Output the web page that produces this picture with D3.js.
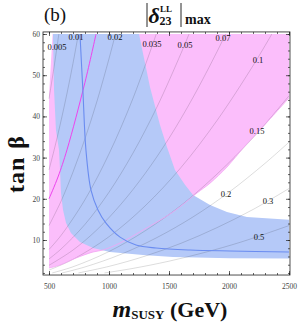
<!DOCTYPE html>
<html><head><meta charset="utf-8">
<script src="https://cdn.jsdelivr.net/npm/d3@7"></script>
<style>body{margin:0;background:#fff}svg{display:block}</style>
</head><body><svg id="c" width="300" height="325"></svg>
<script>
// ---- data (m_SUSY in GeV, tan beta) ----
const xMajorTicks = [500, 1000, 1500, 2000, 2500];
const xMinorTicks = d3.range(500, 2501, 100);
const yMajorTicks = [10, 20, 30, 40, 50, 60];
const yMinorTicks = d3.range(2, 61, 2);

const contourLevels = ["0.005", "0.01", "0.02", "0.035", "0.05", "0.07", "0.1", "0.15", "0.2", "0.3", "0.5"];
const contour005 = [[500,44.3],[520,47.9],[540,51.6],[560,55.5],[582,60]];
const contour01  = [[500,27],[550,32.7],[600,38.9],[650,45.6],[700,52.9],[745,60]];
const contour02  = [[500,13.5],[600,19.4],[700,26.5],[800,34.6],[900,43.7],[1000,54],[1054,60]];
const contour035 = [[500,7.7],[600,11.1],[800,19.8],[1000,30.9],[1200,44.4],[1394,60]];
const contour05  = [[500,5.4],[600,7.8],[800,13.8],[1000,21.6],[1200,31.1],[1400,42.3],[1600,55.3],[1667,60]];
const contour07  = [[500,3.86],[700,7.56],[900,12.5],[1100,18.7],[1300,26.1],[1500,34.7],[1700,44.6],[1900,55.7],[1972,60]];
const contour1   = [[500,2.7],[700,5.3],[1000,10.8],[1300,18.25],[1600,27.6],[1900,39.0],[2200,52.3],[2357,60]];
const contour15  = [[527,2],[700,3.5],[1000,7.2],[1300,12.2],[1600,18.4],[1900,26.0],[2200,34.8],[2500,45]];
const contour2   = [[609,2],[800,3.46],[1100,6.53],[1400,10.6],[1700,15.6],[2000,21.6],[2300,28.6],[2500,33.75]];
const contour3   = [[745,2],[1000,3.6],[1300,6.08],[1600,9.2],[1900,13.0],[2200,17.4],[2500,22.5]];
const contour5   = [[962,2],[1200,3.11],[1500,4.86],[1800,7.0],[2100,9.5],[2500,13.5]];
const contourLines = [contour005, contour01, contour02, contour035, contour05, contour07, contour1, contour15, contour2, contour3, contour5];
const contourLabelAt = [[567,56.8],[725,59.3],[1050,59.3],[1358,57.6],[1633,57.3],[1950,59.0],[2242,53.7],[2233,36.5],[1975,21.2],[2325,19.5],[2250,10.7]];

const pinkRegion = [[500,3.2],[500,45],[530,60],[2500,60],[2500,44.5],[2258,36.7],[2117,32.3],[1983,27.7],[1842,23.8],[1733,21.4],[1533,16.8],[1283,12.4],[1092,9.27],[950,7.57],[867,7.09],[725,5.63],[592,3.93],[500,3.2]];
const pinkLowerEdge = [[2500,44.5],[2258,36.7],[2117,32.3],[1983,27.7],[1842,23.8],[1733,21.4],[1533,16.8],[1283,12.4],[1092,9.27],[950,7.57],[867,7.09],[725,5.63],[592,3.93],[500,3.2]];
const blueRegion = [[533,60],[1250,60],[1342,47.1],[1425,37.9],[1483,32.6],[1550,27.0],[1633,23.4],[1700,20.9],[1842,18.5],[1983,16.8],[2150,15.6],[2500,14.9],[2500,5.5],[2008,5.6],[1533,5.87],[1283,6.36],[1008,7.09],[867,8.06],[758,9.5],[683,11.7],[642,14.1],[617,17.3],[600,21.4],[592,27.0],[583,31.9],[558,36.7],[542,46.4],[533,60]];
const magentaCurve = [[892,60],[800,48.3],[650,31.9],[575,25.3],[500,20]];
const blueCurve = [[758,60],[783,45.9],[808,31.8],[850,22.1],[908,17.3],[975,14.1],[1092,10.7],[1225,8.8],[1392,8.06],[1675,7.57],[2008,7.33],[2500,7.09]];

// ---- drawing ----
const svg = d3.select("#c");
svg.append("rect").attr("width",300).attr("height",325).attr("fill","#fff");
const x = d3.scaleLinear().domain([500,2500]).range([49,289]);
const y = d3.scaleLinear().domain([2,60]).range([272.96,34]);
const fx0 = x(450), fx1 = x(2508.3), fy0 = y(60.5), fy1 = y(1.5);

svg.append("clipPath").attr("id","clip").append("rect")
  .attr("x",fx0).attr("y",fy0).attr("width",fx1-fx0).attr("height",fy1-fy0);
const g = svg.append("g").attr("clip-path","url(#clip)");

const lin = d3.line().x(d=>x(d[0])).y(d=>y(d[1]));
const smooth = d3.line().x(d=>x(d[0])).y(d=>y(d[1])).curve(d3.curveCatmullRom);

g.append("path").attr("d", lin(pinkRegion)).attr("fill","#fbbefb");
g.append("path").attr("d", lin(blueRegion)).attr("fill","#b5c9f8");

contourLines.forEach(pts=>{
  g.append("path").attr("d", smooth(pts)).attr("fill","none")
    .attr("stroke","#000").attr("stroke-opacity",0.2).attr("stroke-width",0.7);
});
g.append("path").attr("d", smooth(pinkLowerEdge)).attr("fill","none")
  .attr("stroke","#f3a3f3").attr("stroke-width",0.8);
g.append("path").attr("d", smooth(magentaCurve)).attr("fill","none")
  .attr("stroke","#ee44ee").attr("stroke-width",1);
g.append("path").attr("d", smooth(blueCurve)).attr("fill","none")
  .attr("stroke","#6a8cf0").attr("stroke-width",1.1);

contourLevels.forEach((t,i)=>{
  g.append("text").attr("x",x(contourLabelAt[i][0])).attr("y",y(contourLabelAt[i][1]))
    .attr("text-anchor","middle").attr("dominant-baseline","central")
    .attr("font-family","Liberation Serif").attr("font-size",8.5).attr("fill","#111").text(t);
});

// frame + ticks
svg.append("rect").attr("x",fx0).attr("y",fy0).attr("width",fx1-fx0).attr("height",fy1-fy0)
  .attr("fill","none").attr("stroke","#222").attr("stroke-width",0.8);

function styleAxis(sel){
  sel.select(".domain").remove();
  sel.selectAll("line").attr("stroke","#222").attr("stroke-width",0.7);
  sel.selectAll("text").attr("font-family","Liberation Serif").attr("font-size",7.5).attr("fill","#444");
}
const ax = [
  [d3.axisBottom(x).tickValues(xMinorTicks).tickSize(-2).tickFormat(""), `translate(0,${fy1})`],
  [d3.axisBottom(x).tickValues(xMajorTicks).tickSize(-4).tickPadding(9).tickFormat(d3.format("d")), `translate(0,${fy1})`],
  [d3.axisTop(x).tickValues(xMinorTicks).tickSize(-2).tickFormat(""), `translate(0,${fy0})`],
  [d3.axisTop(x).tickValues(xMajorTicks).tickSize(-4).tickFormat(""), `translate(0,${fy0})`],
  [d3.axisLeft(y).tickValues(yMinorTicks).tickSize(-2).tickFormat(""), `translate(${fx0},0)`],
  [d3.axisLeft(y).tickValues(yMajorTicks).tickSize(-4).tickPadding(3).tickFormat(d3.format("d")), `translate(${fx0},0)`],
  [d3.axisRight(y).tickValues(yMinorTicks).tickSize(-2).tickFormat(""), `translate(${fx1},0)`],
  [d3.axisRight(y).tickValues(yMajorTicks).tickSize(-4).tickFormat(""), `translate(${fx1},0)`]
];
ax.forEach(([a,t])=>{ svg.append("g").attr("transform",t).call(a).call(styleAxis); });

// titles
svg.append("text").attr("x",44).attr("y",21).attr("font-family","Liberation Serif")
  .attr("font-size",19).attr("fill","#111").text("(b)");
svg.append("line").attr("x1",147).attr("x2",147).attr("y1",3).attr("y2",27).attr("stroke","#111").attr("stroke-width",0.9);
svg.append("line").attr("x1",181).attr("x2",181).attr("y1",3).attr("y2",27).attr("stroke","#111").attr("stroke-width",0.9);
svg.append("text").attr("x",148.5).attr("y",23).attr("font-family","Liberation Serif").attr("font-style","italic")
  .attr("font-weight","bold").attr("font-size",22).attr("fill","#111").text("δ");
svg.append("text").attr("x",160).attr("y",12).attr("font-family","Liberation Serif")
  .attr("font-weight","bold").attr("font-size",9).attr("fill","#111").text("LL");
svg.append("text").attr("x",159.5).attr("y",25).attr("font-family","Liberation Serif")
  .attr("font-weight","bold").attr("font-size",12).attr("fill","#111").text("23");
svg.append("text").attr("x",185).attr("y",24).attr("font-family","Liberation Serif")
  .attr("font-weight","bold").attr("font-size",14).attr("fill","#111").text("max");

const yl = svg.append("text").attr("transform","translate(24,164) rotate(-90)").attr("text-anchor","middle")
  .attr("font-family","Liberation Serif").attr("font-weight","bold").attr("font-size",24).attr("fill","#111")
  .attr("letter-spacing",1);
yl.append("tspan").text("tan");
yl.append("tspan").attr("dx",8).text("β");

const xl = svg.append("text").attr("x",170).attr("y",317).attr("text-anchor","middle")
  .attr("font-family","Liberation Serif").attr("font-weight","bold").attr("fill","#111");
xl.append("tspan").attr("font-style","italic").attr("font-size",24).text("m");
xl.append("tspan").attr("font-size",13).attr("dy",2).text("SUSY");
xl.append("tspan").attr("font-size",22).attr("dy",-2).text(" (GeV)");
</script></body></html>
